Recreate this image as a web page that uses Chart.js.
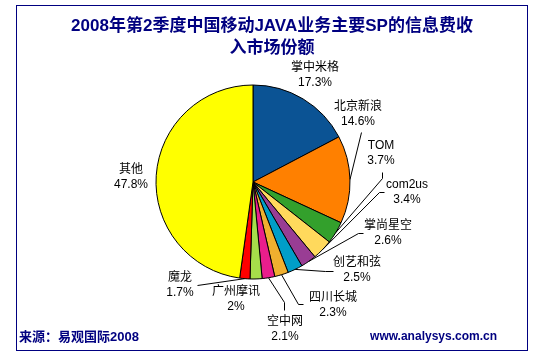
<!DOCTYPE html>
<html><head><meta charset="utf-8">
<script src="https://cdn.jsdelivr.net/npm/chart.js@4/dist/chart.umd.min.js"></script>
<style>html,body{margin:0;padding:0;background:#fff}#wrap{width:536px;height:356px;position:relative}</style>
</head><body><div id="wrap"><canvas id="c" width="536" height="356"></canvas></div>
<script>
// ---- data ----
const categories = ['掌中米格','北京新浪','TOM','com2us','掌尚星空','创艺和弦','四川长城','空中网','广州摩讯','魔龙','其他'];
const shares = [17.3, 14.6, 3.7, 3.4, 2.6, 2.5, 2.3, 2.1, 2, 1.7, 47.8];
const shareLabels = ['17.3%','14.6%','3.7%','3.4%','2.6%','2.5%','2.3%','2.1%','2%','1.7%','47.8%'];
const titleLines = ['2008年第2季度中国移动JAVA业务主要SP的信息费收', '入市场份额'];
const sourceText = '来源：易观国际2008';
const siteText = 'www.analysys.com.cn';

// ---- styles / layout ----
const sliceColors = ['#0b5394','#ff8000','#33a02c','#ffd95c','#993d94','#009ec8','#f0b02f','#e91e8c','#a6de4a','#ff0000','#ffff00'];
const navy = '#000080';
// label centre offsets from pie centre
const labelOffsets = [[62,-114],[105,-75],[128,-36],[154,3],[135,44],[104,81],[80,116],[32,140],[-17,110],[-73,96],[-122,-12]];
// leader line points (relative to pie centre) before reaching the slice edge
const leaderPts = [null, [[108,-50]], [[129,-10],[129,-4]], [[131,10],[126,10]], [[110,51],[105,51]],
  [[80,89],[72,89]], [[50,122],[45,122]], [[31,128],[31,120]], null, [[-56,103]], null];
const labelFont = '12px "Liberation Sans","Noto Sans CJK SC",sans-serif';

const decor = {
  id: 'decor',
  afterDraw(chart) {
    const ctx = chart.ctx;
    const meta = chart.getDatasetMeta(0);
    ctx.save();
    // frame
    ctx.strokeStyle = navy; ctx.lineWidth = 1;
    ctx.strokeRect(16.5, 5.5, 511, 345);
    // title
    ctx.fillStyle = navy;
    ctx.textAlign = 'center'; ctx.textBaseline = 'middle';
    ctx.font = 'bold 17px "Liberation Sans","Noto Sans CJK SC",sans-serif';
    ctx.fillText(titleLines[0], 272, 26);
    ctx.fillText(titleLines[1], 272, 48);
    // footer
    ctx.textAlign = 'left';
    ctx.font = 'bold 13px "Liberation Sans","Noto Sans CJK SC",sans-serif';
    ctx.fillText(sourceText, 19, 337);
    ctx.textAlign = 'right';
    ctx.font = 'bold 12px "Liberation Sans","Noto Sans CJK SC",sans-serif';
    ctx.fillText(siteText, 497, 337);
    // labels and leaders
    ctx.strokeStyle = '#000'; ctx.fillStyle = '#000';
    ctx.font = labelFont; ctx.textAlign = 'center';
    meta.data.forEach((arc, i) => {
      const p = arc.getProps(['x','y','startAngle','endAngle','outerRadius'], true);
      const cx = p.x, cy = p.y;
      const mid = (p.startAngle + p.endAngle) / 2;
      const ex = cx + Math.cos(mid) * p.outerRadius, ey = cy + Math.sin(mid) * p.outerRadius;
      const lp = leaderPts[i];
      if (lp) {
        ctx.beginPath();
        ctx.moveTo(cx + lp[0][0] + 0.5, cy + lp[0][1] + 0.5);
        for (let k = 1; k < lp.length; k++) ctx.lineTo(cx + lp[k][0] + 0.5, cy + lp[k][1] + 0.5);
        ctx.lineTo(ex, ey);
        ctx.stroke();
      }
      const o = labelOffsets[i];
      ctx.fillText(categories[i], cx + o[0], cy + o[1]);
      ctx.fillText(shareLabels[i], cx + o[0], cy + o[1] + 15);
    });
    ctx.restore();
  }
};

new Chart(document.getElementById('c'), {
  type: 'pie',
  data: {
    labels: categories,
    datasets: [{ data: shares, backgroundColor: sliceColors, borderColor: '#000', borderWidth: 1 }]
  },
  options: {
    responsive: false,
    animation: false,
    radius: 97,
    layout: { padding: { left: 156, right: 186, top: 85, bottom: 77 } },
    plugins: { legend: { display: false }, tooltip: { enabled: false }, title: { display: false } }
  },
  plugins: [decor]
});
</script>
</body></html>
